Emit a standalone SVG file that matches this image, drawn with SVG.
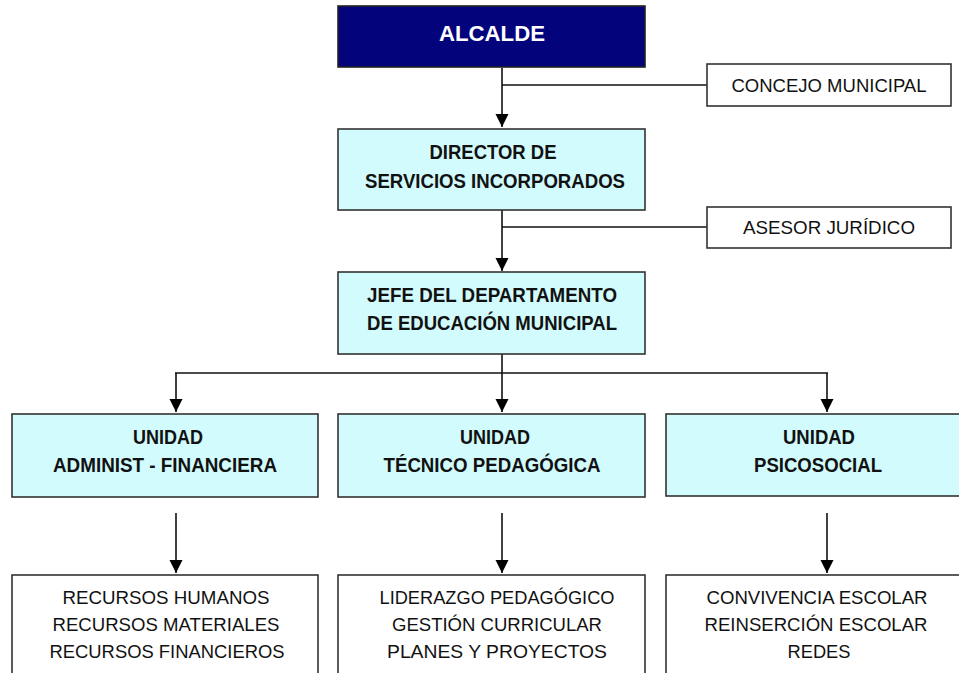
<svg xmlns="http://www.w3.org/2000/svg" width="959" height="673" viewBox="0 0 959 673">
<style>
text{font-family:"Liberation Sans",Arial,sans-serif;text-anchor:middle;fill:#111}
.b{font-weight:bold;font-size:20px}
.r{font-size:19px}
.box{fill:#d2fbfd;stroke:#333;stroke-width:1.6}
.wbox{fill:#fff;stroke:#333;stroke-width:1.6}
.ln{fill:none;stroke:#111;stroke-width:1.6}
</style>
<defs>
<marker id="ah" markerWidth="14" markerHeight="14" refX="13" refY="6.5" orient="auto" markerUnits="userSpaceOnUse">
<path d="M0,0 L13,6.5 L0,13 Z" fill="#000"/>
</marker>
</defs>
<rect width="959" height="673" fill="#fff"/>
<g id="connectors">
<path class="ln" d="M502,68 V127" marker-end="url(#ah)"/>
<path class="ln" d="M502,85 H707"/>
<path class="ln" d="M502,210 V271" marker-end="url(#ah)"/>
<path class="ln" d="M502,227 H707"/>
<path class="ln" d="M502,354 V412" marker-end="url(#ah)"/>
<path class="ln" d="M175,373 H828"/>
<path class="ln" d="M176,373 V412" marker-end="url(#ah)"/>
<path class="ln" d="M827,373 V412" marker-end="url(#ah)"/>
<path class="ln" d="M176,513 V573" marker-end="url(#ah)"/>
<path class="ln" d="M502,513 V573" marker-end="url(#ah)"/>
<path class="ln" d="M827,513 V573" marker-end="url(#ah)"/>
</g>
<g id="alcalde">
<rect x="338" y="6" width="307" height="61" fill="#03037c" stroke="#222" stroke-width="1.6"/>
<text x="492" y="41" class="b" style="fill:#fff;font-size:22px" textLength="106" lengthAdjust="spacingAndGlyphs">ALCALDE</text>
</g>
<g id="concejo">
<rect class="wbox" x="707" y="64" width="244" height="42"/>
<text x="829" y="92" class="r" textLength="195" lengthAdjust="spacingAndGlyphs">CONCEJO MUNICIPAL</text>
</g>
<g id="director">
<rect class="box" x="338" y="129" width="307" height="81"/>
<text x="493" y="159" class="b" textLength="127" lengthAdjust="spacingAndGlyphs">DIRECTOR DE</text>
<text x="495" y="188" class="b" textLength="260" lengthAdjust="spacingAndGlyphs">SERVICIOS INCORPORADOS</text>
</g>
<g id="asesor">
<rect class="wbox" x="707" y="207" width="244" height="41"/>
<text x="829" y="234" class="r" textLength="172" lengthAdjust="spacingAndGlyphs">ASESOR JURÍDICO</text>
</g>
<g id="jefe">
<rect class="box" x="338" y="272" width="307" height="82"/>
<text x="492" y="302" class="b" textLength="250" lengthAdjust="spacingAndGlyphs">JEFE DEL DEPARTAMENTO</text>
<text x="492" y="330" class="b" textLength="250" lengthAdjust="spacingAndGlyphs">DE EDUCACIÓN MUNICIPAL</text>
</g>
<g id="unidad-admin">
<rect class="box" x="12" y="414" width="306" height="83"/>
<text x="168" y="444" class="b" textLength="70" lengthAdjust="spacingAndGlyphs">UNIDAD</text>
<text x="165" y="472" class="b" textLength="224" lengthAdjust="spacingAndGlyphs">ADMINIST - FINANCIERA</text>
</g>
<g id="unidad-tecnico">
<rect class="box" x="338" y="414" width="307" height="83"/>
<text x="495" y="444" class="b" textLength="70" lengthAdjust="spacingAndGlyphs">UNIDAD</text>
<text x="492" y="472" class="b" textLength="217" lengthAdjust="spacingAndGlyphs">TÉCNICO PEDAGÓGICA</text>
</g>
<g id="unidad-psico">
<rect class="box" x="666" y="414" width="310" height="82"/>
<text x="819" y="444" class="b" textLength="72" lengthAdjust="spacingAndGlyphs">UNIDAD</text>
<text x="818" y="472" class="b" textLength="128" lengthAdjust="spacingAndGlyphs">PSICOSOCIAL</text>
</g>
<g id="recursos">
<rect class="wbox" x="12" y="575" width="306" height="110"/>
<text x="166" y="604" class="r" textLength="207" lengthAdjust="spacingAndGlyphs">RECURSOS HUMANOS</text>
<text x="166" y="631" class="r" textLength="227" lengthAdjust="spacingAndGlyphs">RECURSOS MATERIALES</text>
<text x="167" y="658" class="r" textLength="235" lengthAdjust="spacingAndGlyphs">RECURSOS FINANCIEROS</text>
</g>
<g id="liderazgo">
<rect class="wbox" x="338" y="575" width="307" height="110"/>
<text x="497" y="604" class="r" textLength="235" lengthAdjust="spacingAndGlyphs">LIDERAZGO PEDAGÓGICO</text>
<text x="497" y="631" class="r" textLength="210" lengthAdjust="spacingAndGlyphs">GESTIÓN CURRICULAR</text>
<text x="497" y="658" class="r" textLength="220" lengthAdjust="spacingAndGlyphs">PLANES Y PROYECTOS</text>
</g>
<g id="convivencia">
<rect class="wbox" x="666" y="575" width="310" height="110"/>
<text x="817" y="604" class="r" textLength="221" lengthAdjust="spacingAndGlyphs">CONVIVENCIA ESCOLAR</text>
<text x="816" y="631" class="r" textLength="223" lengthAdjust="spacingAndGlyphs">REINSERCIÓN ESCOLAR</text>
<text x="819" y="658" class="r" textLength="63" lengthAdjust="spacingAndGlyphs">REDES</text>
</g>
</svg>
